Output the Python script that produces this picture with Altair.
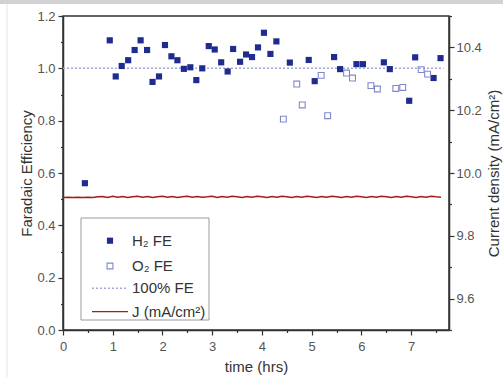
import altair as alt
import pandas as pd

# ---------------- data ----------------
H2_TIME = [0.44, 0.94, 1.06, 1.18, 1.31, 1.44, 1.56, 1.69, 1.80, 1.93, 2.05, 2.18, 2.30,
           2.43, 2.56, 2.68, 2.80, 2.93, 3.05, 3.18, 3.31, 3.42, 3.56, 3.68, 3.80, 3.92,
           4.04, 4.17, 4.29, 4.56, 4.94, 5.06, 5.45, 5.57, 5.90, 6.03, 6.45, 6.57, 6.96,
           7.08, 7.45, 7.59]
H2_FE = [0.561, 1.107, 0.969, 1.009, 1.031, 1.070, 1.107, 1.070, 0.948, 0.969, 1.089, 1.046,
         1.031, 0.998, 1.004, 0.955, 1.000, 1.085, 1.072, 1.023, 0.988, 1.074, 1.025, 1.053,
         1.043, 1.080, 1.136, 1.055, 1.103, 1.022, 1.032, 0.951, 1.043, 0.997, 1.016, 1.016,
         1.023, 0.997, 0.876, 1.042, 0.963, 1.039]

O2_TIME = [4.43, 4.70, 4.81, 5.19, 5.32, 5.70, 5.82, 6.19, 6.32, 6.69, 6.83, 7.20, 7.33]
O2_FE = [0.806, 0.940, 0.860, 0.973, 0.819, 0.982, 0.963, 0.934, 0.921, 0.923, 0.927, 0.995, 0.978]

FE100_START = 0.0
FE100_END = 7.65
FE100_VALUE = 1.0

J_TIME = [0.0, 0.1, 0.2, 0.3, 0.4, 0.5, 0.6, 0.7, 0.8, 0.9, 1.0, 1.1, 1.2, 1.3, 1.4, 1.5,
          1.6, 1.7, 1.8, 1.9, 2.0, 2.1, 2.2, 2.3, 2.4, 2.5, 2.6, 2.7, 2.8, 2.9, 3.0, 3.1,
          3.2, 3.3, 3.4, 3.5, 3.6, 3.7, 3.8, 3.9, 4.0, 4.1, 4.2, 4.3, 4.4, 4.5, 4.6, 4.7,
          4.8, 4.9, 5.0, 5.1, 5.2, 5.3, 5.4, 5.5, 5.6, 5.7, 5.8, 5.9, 6.0, 6.1, 6.2, 6.3,
          6.4, 6.5, 6.6, 6.7, 6.8, 6.9, 7.0, 7.1, 7.2, 7.3, 7.4, 7.5, 7.6]
J_VALUE = [9.922, 9.923, 9.922, 9.923, 9.922, 9.923, 9.922, 9.924, 9.925, 9.922,
           9.926, 9.923, 9.925, 9.922, 9.924, 9.926, 9.923, 9.925, 9.922, 9.924,
           9.926, 9.923, 9.925, 9.922, 9.924, 9.926, 9.923, 9.925, 9.923, 9.924,
           9.926, 9.922, 9.925, 9.923, 9.926, 9.924, 9.922, 9.925, 9.923, 9.926,
           9.924, 9.922, 9.925, 9.923, 9.926, 9.924, 9.922, 9.925, 9.923, 9.926,
           9.924, 9.922, 9.925, 9.923, 9.926, 9.924, 9.922, 9.925, 9.923, 9.926,
           9.924, 9.922, 9.925, 9.923, 9.926, 9.924, 9.922, 9.925, 9.923, 9.926,
           9.924, 9.922, 9.925, 9.923, 9.926, 9.924, 9.923]

X_TICKS = [0, 0.5, 1, 1.5, 2, 2.5, 3, 3.5, 4, 4.5, 5, 5.5, 6, 6.5, 7, 7.5]
FE_TICKS = [0.0, 0.1, 0.2, 0.3, 0.4, 0.5, 0.6, 0.7, 0.8, 0.9, 1.0, 1.1, 1.2]
J_TICKS = [9.5, 9.6, 9.7, 9.8, 9.9, 10.0, 10.1, 10.2, 10.3, 10.4, 10.5]

LEGEND_LABELS = ["H\u2082 FE", "O\u2082 FE", "100% FE", "J (mA/cm\u00b2)"]

# ---------------- styles ----------------
FONT = "Liberation Sans"
H2_COLOR = "#1f2b8e"
O2_COLOR = "#8088cc"
FE100_COLOR = "#a3a8d8"
J_COLOR = "#a51c1c"
AXIS_COLOR = "#333333"

W, H = 386, 314

h2_df = pd.DataFrame({"t": H2_TIME, "fe": H2_FE})
o2_df = pd.DataFrame({"t": O2_TIME, "fe": O2_FE})
fe100_df = pd.DataFrame({"t": [FE100_START], "t2": [FE100_END], "fe": [FE100_VALUE]})
j_df = pd.DataFrame({"t": J_TIME, "j": J_VALUE})
one = pd.DataFrame({"k": [0]})

common_axis = dict(
    domainColor=AXIS_COLOR, domainWidth=1.5, tickColor=AXIS_COLOR, tickWidth=1.2,
    labelColor="#555555", labelFont=FONT, labelFontSize=13, titleFont=FONT,
    titleFontSize=15, titleFontWeight="normal", titleColor="#333333", grid=False,
    labelOverlap=False, labelFlush=False,
)

x_enc = alt.X(
    "t:Q",
    scale=alt.Scale(domain=[0, 7.76], nice=False, zero=False),
    axis=alt.Axis(
        title="time (hrs)", values=X_TICKS,
        labelExpr="datum.value % 1 == 0 ? format(datum.value, 'd') : ''",
        tickSize={"condition": {"test": "datum.value % 1 == 0", "value": 5}, "value": 2.5},
        labelPadding=5, titlePadding=6, **common_axis,
    ),
)

fe_axis = alt.Axis(
    title="Faradaic Efficiency", values=FE_TICKS,
    labelExpr="round(datum.value*10) % 2 == 0 ? format(datum.value, '.1f') : ''",
    tickSize={"condition": {"test": "round(datum.value*10) % 2 == 0", "value": 5}, "value": 2.5},
    labelPadding=3, titlePadding=2, **common_axis,
)
y_fe = alt.Y("fe:Q", scale=alt.Scale(domain=[0, 1.2], nice=False), axis=fe_axis)

h2 = alt.Chart(h2_df).mark_square(size=38, color=H2_COLOR, opacity=1).encode(x=x_enc, y=y_fe)
o2 = alt.Chart(o2_df).mark_square(size=34, filled=False, color=O2_COLOR, strokeWidth=1.1,
                                  opacity=1).encode(x=x_enc, y=y_fe)
fe100 = alt.Chart(fe100_df).mark_rule(color=FE100_COLOR, strokeDash=[2, 2], strokeWidth=1.5).encode(
    x=x_enc, x2="t2:Q", y=y_fe)

# legend (drawn in pixel space of the plot)
leg_box = alt.Chart(one).mark_rect(fill="white", stroke="#9a9a9a", strokeWidth=1).encode(
    x=alt.value(18), x2=alt.value(146), y=alt.value(202), y2=alt.value(304))
leg_h2 = alt.Chart(one).mark_square(size=38, color=H2_COLOR, opacity=1).encode(
    x=alt.value(47), y=alt.value(224.7))
leg_o2 = alt.Chart(one).mark_square(size=34, filled=False, color=O2_COLOR, strokeWidth=1.1,
                                    opacity=1).encode(x=alt.value(47), y=alt.value(250))
leg_fe = alt.Chart(one).mark_rule(color=FE100_COLOR, strokeDash=[2, 2], strokeWidth=1.5).encode(
    x=alt.value(29), x2=alt.value(65), y=alt.value(272.3))
leg_j = alt.Chart(one).mark_rule(color=J_COLOR, strokeWidth=1.2).encode(
    x=alt.value(29), x2=alt.value(65), y=alt.value(295.7))

def leg_text(label, ypix):
    return alt.Chart(one).mark_text(
        text=label, align="left", baseline="middle", font=FONT, fontSize=15, color="#333333"
    ).encode(x=alt.value(69), y=alt.value(ypix))

texts = [leg_text(LEGEND_LABELS[0], 224.7), leg_text(LEGEND_LABELS[1], 250),
         leg_text(LEGEND_LABELS[2], 272.3), leg_text(LEGEND_LABELS[3], 295.7)]

# decorative frame of the screenshot
top_band = alt.Chart(one).mark_rect(color="#d2d2d2").encode(
    x=alt.value(-63), x2=alt.value(440), y=alt.value(-16), y2=alt.value(-12))
side_line = alt.Chart(one).mark_rule(color="#e6e6e6", strokeWidth=1).encode(
    x=alt.value(-56), y=alt.value(-12), y2=alt.value(361))

fe_layer = alt.layer(top_band, side_line, fe100, h2, o2, leg_box, leg_h2, leg_o2, leg_fe, leg_j, *texts)

j_axis = alt.Axis(
    title="Current density (mA/cm\u00b2)", orient="right", values=J_TICKS,
    labelExpr="round(datum.value*10) % 2 == 0 ? format(datum.value, '.1f') : ''",
    tickSize={"condition": {"test": "round(datum.value*10) % 2 == 0", "value": 5}, "value": 2.5},
    labelPadding=2, titlePadding=5, titleAngle=270, titleBaseline="top", **common_axis,
)
j_line = alt.Chart(j_df).mark_line(color=J_COLOR, strokeWidth=1.5).encode(
    x=x_enc,
    y=alt.Y("j:Q", scale=alt.Scale(domain=[9.5, 10.5], nice=False, zero=False), axis=j_axis),
)

chart = alt.layer(fe_layer, j_line).resolve_scale(y="independent").properties(
    width=W, height=H,
    autosize=alt.AutoSizeParams(type="none"),
    padding={"left": 63, "top": 16, "right": 54, "bottom": 47},
    background="white",
).configure_view(stroke=AXIS_COLOR, strokeWidth=1.5)

chart.save("out.html", embed_options={"renderer": "svg", "actions": False})
